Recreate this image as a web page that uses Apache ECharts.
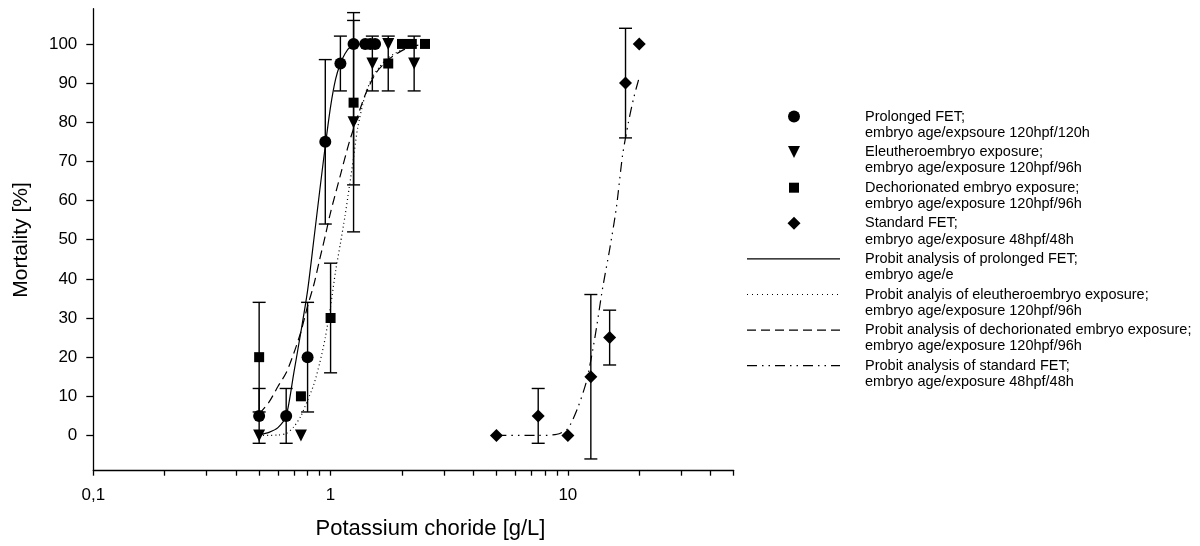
<!DOCTYPE html>
<html><head><meta charset="utf-8">
<script src="https://cdn.jsdelivr.net/npm/echarts@6/dist/echarts.min.js"></script>
<style>html,body{margin:0;padding:0;background:#fff}#c{width:1200px;height:546px}</style>
</head><body><div id="c"></div>
<script>
const FONT = "'Liberation Sans', Arial, Helvetica, sans-serif";

// ---- Data ----
// Prolonged FET (circles)
const prolongedX   = [0.5, 0.65, 0.8, 0.95, 1.1, 1.25, 1.4, 1.47, 1.54];
const prolongedY   = [5, 5, 20, 75, 95, 100, 100, 100, 100];
const prolongedErr = [7, 7, 14, 21, 7, 0, 0, 0, 0];
// Eleutheroembryo exposure (triangles)
const eleuX   = [0.5, 0.75, 1.25, 1.5, 1.75, 2.25];
const eleuY   = [0, 0, 80, 95, 100, 95];
const eleuErr = [0, 0, 28, 7, 0, 7];
// Dechorionated embryo exposure (squares)
const dechX   = [0.5, 0.75, 1.0, 1.25, 1.75, 2.0, 2.2, 2.5];
const dechY   = [20, 10, 30, 85, 95, 100, 100, 100];
const dechErr = [14, 0, 14, 21, 7, 0, 0, 0];
// Standard FET (diamonds)
const stdX   = [5, 7.5, 10, 12.5, 15, 17.5, 20];
const stdY   = [0, 5, 0, 15, 25, 90, 100];
const stdErr = [0, 7, 0, 21, 7, 14, 0];

// Probit curves, points
const probitProlongedX = [0.5, 0.55, 0.6, 0.65, 0.7, 0.75, 0.8, 0.85, 0.9, 0.95, 1.0, 1.05, 1.1, 1.15, 1.2, 1.3, 1.6];
const probitProlongedY = [0.2, 0.8, 2, 5, 16, 26.5, 37, 50, 62.5, 74, 84, 91, 95, 97.5, 99, 99.9, 100];
const probitEleuX = [0.5, 0.6, 0.65, 0.7, 0.75, 0.8, 0.85, 0.9, 0.95, 1.0, 1.05, 1.1, 1.15, 1.2, 1.25, 1.3, 1.4, 1.5, 1.6, 1.75, 2.0, 2.3];
const probitEleuY = [0, 0.1, 0.5, 2.2, 5, 9, 13, 18.5, 25, 33, 42, 49, 56, 63.5, 71, 78.5, 87, 91.5, 94, 96.5, 98.5, 99.8];
const probitDechX = [0.5, 0.55, 0.6, 0.65, 0.7, 0.75, 0.8, 0.85, 0.9, 0.95, 1.0, 1.1, 1.2, 1.3, 1.4, 1.55, 1.75, 2.0, 2.3, 2.5];
const probitDechY = [5.5, 8.5, 12.5, 16, 21, 26.5, 33, 38.5, 45, 51, 57, 66.5, 75, 81.5, 87, 92.5, 96, 98.3, 99.6, 100];
const probitStdX = [5, 7.5, 9, 10, 11, 12, 13, 14, 15, 16, 17, 18, 19, 20];
const probitStdY = [0, 0, 0.3, 1.8, 7, 14, 25, 37.5, 47.5, 58, 71.5, 80, 86.5, 91.5];

// Axis ticks
const xMinorTicks = [0.2, 0.3, 0.4, 0.5, 0.6, 0.7, 0.8, 0.9, 2, 3, 4, 5, 6, 7, 8, 9, 20, 30, 40];
const yTicks = [0, 10, 20, 30, 40, 50, 60, 70, 80, 90, 100];

// Legend texts
const legendLabels = [
  ['Prolonged FET;', 'embryo age/expsoure 120hpf/120h'],
  ['Eleutheroembryo exposure;', 'embryo age/exposure 120hpf/96h'],
  ['Dechorionated embryo exposure;', 'embryo age/exposure 120hpf/96h'],
  ['Standard FET;', 'embryo age/exposure 48hpf/48h'],
  ['Probit analysis of prolonged FET;', 'embryo age/e'],
  ['Probit analyis of eleutheroembryo exposure;', 'embryo age/exposure 120hpf/96h'],
  ['Probit analysis of dechorionated embryo exposure;', 'embryo age/exposure 120hpf/96h'],
  ['Probit analysis of standard FET;', 'embryo age/exposure 48hpf/48h']
];

// ---- Styles ----
const BLACK = '#000';
const DOTTED = [1, 3];
const DASHED = [9, 5];
const DASHDOTDOT = [10, 5, 1.5, 5, 1.5, 5];
const gridRect = {left: 93.3, right: 466.3, top: 8.7, bottom: 75.3};

function pairs(xs, ys) { return xs.map((x, i) => [x, ys[i]]); }
function errData(xs, ys, es) {
  const out = [];
  xs.forEach((x, i) => { if (es[i] > 0) out.push([x, ys[i] - es[i], ys[i] + es[i]]); });
  return out;
}

function errorSeries(xs, ys, es) {
  return {
    type: 'custom', xAxisIndex: 0, yAxisIndex: 0, silent: true, z: 3,
    data: errData(xs, ys, es),
    encode: {x: 0, y: [1, 2]},
    renderItem: function (params, api) {
      const x = api.value(0);
      const p1 = api.coord([x, api.value(2)]);
      const p2 = api.coord([x, api.value(1)]);
      const w = 6.5;
      const st = {stroke: BLACK, lineWidth: 1.4};
      return {type: 'group', children: [
        {type: 'line', shape: {x1: p1[0], y1: p1[1], x2: p2[0], y2: p2[1]}, style: st},
        {type: 'line', shape: {x1: p1[0] - w, y1: p1[1], x2: p1[0] + w, y2: p1[1]}, style: st},
        {type: 'line', shape: {x1: p2[0] - w, y1: p2[1], x2: p2[0] + w, y2: p2[1]}, style: st}
      ]};
    }
  };
}

function curve(xs, ys, dash) {
  return {
    type: 'line', xAxisIndex: 0, yAxisIndex: 0, data: pairs(xs, ys), showSymbol: false, symbol: 'none',
    smooth: 0.25, silent: true, z: 2,
    lineStyle: {color: BLACK, width: 1.2, type: dash, opacity: 1}
  };
}

function scatter(xs, ys, symbol, size, rotate) {
  return {
    type: 'scatter', xAxisIndex: 0, yAxisIndex: 0, data: pairs(xs, ys), symbol: symbol, symbolSize: size,
    symbolRotate: rotate || 0, itemStyle: {color: BLACK, opacity: 1}, silent: true, z: 4
  };
}

// ---- Legend and axis titles (graphic) ----
const legTop = 116.5, legStep = 35.6, legLH = 16.3, iconX = 794, textX = 865;
const graphics = [];
legendLabels.forEach((lab, i) => {
  const y = legTop + i * legStep;
  graphics.push({type: 'text', silent: true, x: textX, y: y - legLH / 2,
    style: {text: lab[0] + '\n' + lab[1], font: '14.5px ' + FONT, fill: BLACK, lineHeight: legLH, verticalAlign: 'top', align: 'left'}});
  const lineSt = (d) => ({stroke: BLACK, lineWidth: 1.2, lineDash: d});
  if (i === 0) graphics.push({type: 'circle', silent: true, shape: {cx: iconX, cy: y, r: 6}, style: {fill: BLACK}});
  if (i === 1) graphics.push({type: 'polygon', silent: true, shape: {points: [[iconX - 6, y - 6], [iconX + 6, y - 6], [iconX, y + 6]]}, style: {fill: BLACK}});
  if (i === 2) graphics.push({type: 'rect', silent: true, shape: {x: iconX - 5, y: y - 5, width: 10, height: 10}, style: {fill: BLACK}});
  if (i === 3) graphics.push({type: 'polygon', silent: true, shape: {points: [[iconX, y - 6.5], [iconX + 6.5, y], [iconX, y + 6.5], [iconX - 6.5, y]]}, style: {fill: BLACK}});
  if (i >= 4) {
    const d = [null, [1, 4], DASHED, DASHDOTDOT][i - 4];
    graphics.push({type: 'line', silent: true, shape: {x1: 747, y1: y, x2: 840, y2: y}, style: lineSt(d)});
  }
});
graphics.push({type: 'text', silent: true, x: 430.5, y: 528.5,
  style: {text: 'Potassium choride [g/L]', font: '22px ' + FONT, fill: BLACK, align: 'center', verticalAlign: 'middle'}});
graphics.push({type: 'text', silent: true, x: 21, y: 240, rotation: Math.PI / 2,
  style: {text: 'Mortality [%]', font: '21px ' + FONT, fill: BLACK, align: 'center', verticalAlign: 'middle'}});

const axisLineSt = {color: BLACK, width: 1.3};
const option = {
  animation: false,
  backgroundColor: '#fff',
  grid: [Object.assign({}, gridRect), Object.assign({}, gridRect)],
  xAxis: [
    {type: 'log', logBase: 10, min: 0.1, max: 50, gridIndex: 0, position: 'bottom',
     axisLine: {onZero: false, lineStyle: axisLineSt},
     axisTick: {show: true, length: 5, inside: false, lineStyle: axisLineSt},
     axisLabel: {color: BLACK, fontSize: 17, fontFamily: FONT, margin: 16,
       formatter: function (v) { if (v > 20) return ''; return String(+v.toPrecision(6)).replace('.', ','); }},
     splitLine: {show: false}, minorTick: {show: false}},
    {type: 'value', min: -1, max: Math.log10(50), gridIndex: 1, position: 'bottom',
     axisLine: {show: false, onZero: false},
     axisTick: {show: true, length: 5, inside: false, lineStyle: axisLineSt, customValues: xMinorTicks.map(v => Math.log10(v))},
     axisLabel: {show: false}, splitLine: {show: false}}
  ],
  yAxis: [
    {type: 'value', min: -9, max: 109, gridIndex: 0,
     axisLine: {show: true, onZero: false, lineStyle: axisLineSt},
     axisTick: {show: true, length: 7, inside: false, lineStyle: axisLineSt, customValues: yTicks},
     axisLabel: {color: BLACK, fontSize: 17, fontFamily: FONT, margin: 16, customValues: yTicks},
     splitLine: {show: false}},
    {type: 'value', min: -9, max: 109, gridIndex: 1, show: false}
  ],
  graphic: graphics,
  series: [
    curve(probitProlongedX, probitProlongedY, 'solid'),
    curve(probitEleuX, probitEleuY, DOTTED),
    curve(probitDechX, probitDechY, DASHED),
    curve(probitStdX, probitStdY, DASHDOTDOT),
    errorSeries(prolongedX, prolongedY, prolongedErr),
    errorSeries(eleuX, eleuY, eleuErr),
    errorSeries(dechX, dechY, dechErr),
    errorSeries(stdX, stdY, stdErr),
    scatter(prolongedX, prolongedY, 'circle', 12),
    scatter(eleuX, eleuY, 'triangle', [12, 12], 180),
    scatter(dechX, dechY, 'rect', 10),
    scatter(stdX, stdY, 'diamond', 13)
  ]
};
const chart = echarts.init(document.getElementById('c'), null, {renderer: 'canvas'});
chart.setOption(option);
</script>
</body></html>
